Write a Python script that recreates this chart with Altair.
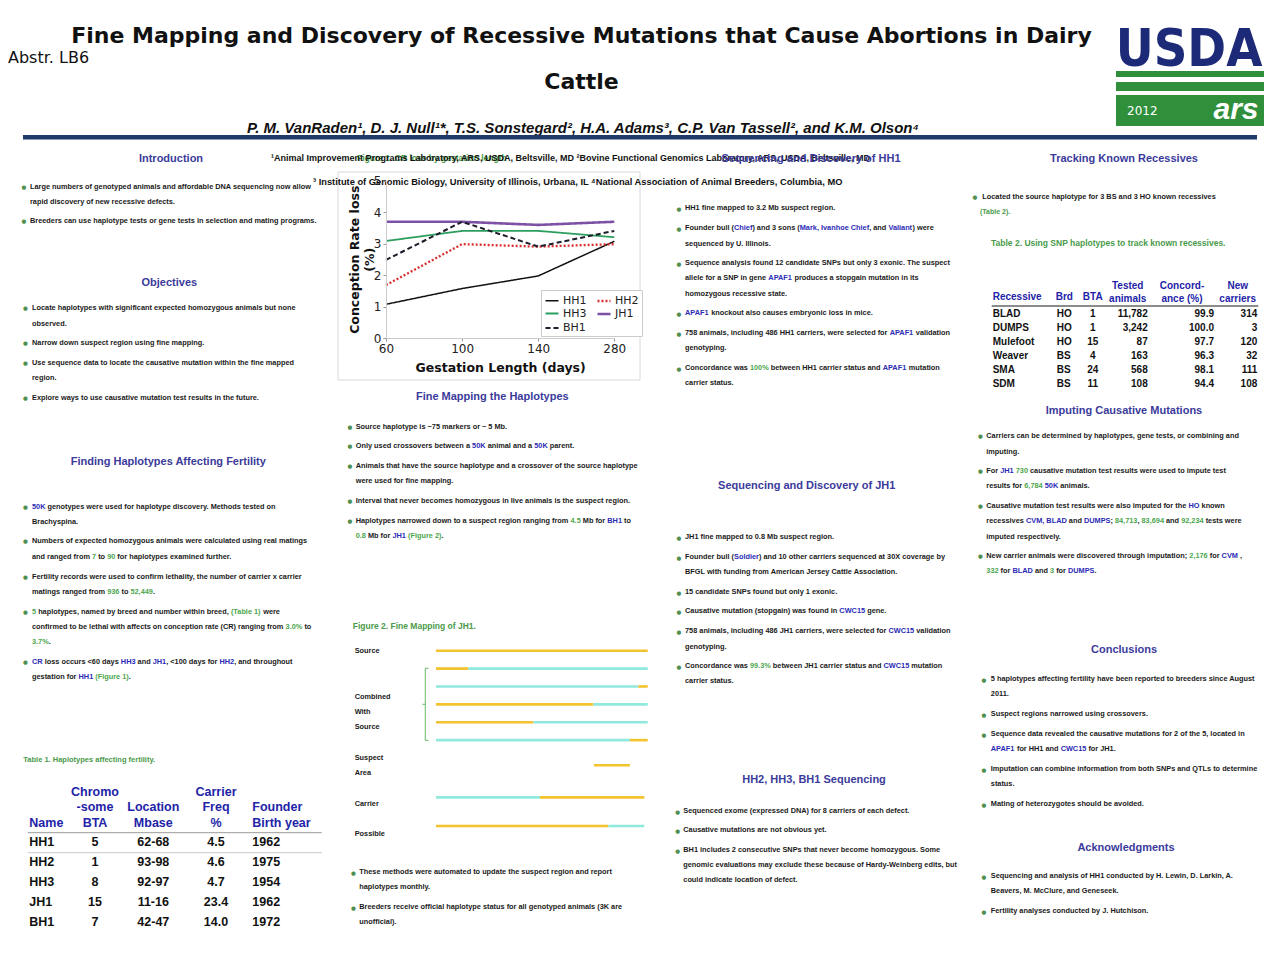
import re
import altair as alt
import pandas as pd

OFF = 8          # page margin
W, H = 1262, 936  # chart size


def px(v):
    return v - OFF


# ---------------- Figure 1 data ----------------
gestation_days = ["60", "100", "140", "280"]
cr_hh1 = [1.07, 1.57, 1.97, 3.07]
cr_hh2 = [1.68, 2.98, 2.90, 2.98]
cr_hh3 = [3.08, 3.40, 3.40, 3.20]
cr_jh1 = [3.69, 3.69, 3.59, 3.69]
cr_bh1 = [2.48, 3.69, 2.90, 3.40]
series_names = ["HH1", "HH2", "HH3", "JH1", "BH1"]
series_colors = ["#111111", "#d62f2f", "#2b9e5e", "#7d52a6", "#1d1d2b"]
series_dash = [[1, 0], [2, 2], [1, 0], [1, 0], [5, 3]]
series_width = [1.5, 1.3, 2.6, 1.5, 1.5]
# legend fills column by column: HH1, HH3, BH1 | HH2, JH1
legend_order = ["HH1", "HH3", "BH1", "HH2", "JH1"]

# ---------------- Table 1 data ----------------
t1_names = ["HH1", "HH2", "HH3", "JH1", "BH1"]
t1_bta = ["5", "1", "8", "15", "7"]
t1_loc = ["62-68", "93-98", "92-97", "11-16", "42-47"]
t1_freq = ["4.5", "4.6", "4.7", "23.4", "14.0"]
t1_year = ["1962", "1975", "1954", "1962", "1972"]

# ---------------- Table 2 data ----------------
t2_rec = ["BLAD", "DUMPS", "Mulefoot", "Weaver", "SMA", "SDM"]
t2_brd = ["HO", "HO", "HO", "BS", "BS", "BS"]
t2_bta = ["1", "1", "15", "4", "24", "11"]
t2_tested = ["11,782", "3,242", "87", "163", "568", "108"]
t2_conc = ["99.9", "100.0", "97.7", "96.3", "98.1", "94.4"]
t2_new = ["314", "3", "120", "32", "111", "108"]

# ---------------- Figure 2 data (fine mapping of JH1) ----------------
seg_track = [0, 1, 1, 2, 2, 3, 3, 4, 4, 5, 5, 6.4, 8.2, 8.2, 9.8, 9.8]
seg_start = [0, 0, 15.3, 0, 95.6, 0, 74.3, 0, 46, 0, 91.6, 74.6, 0, 49.1, 0, 81.4]
seg_end = [100, 15.3, 100, 95.6, 100, 74.3, 100, 46, 100, 91.6, 100, 91.6, 49.1, 98.4, 81.4, 98.4]
seg_kind = ["S", "S", "O", "O", "S", "S", "O", "S", "O", "O", "S", "S", "O", "S", "S", "O"]

BODY_FONT = "Liberation Sans"
HEAD_COLOR = "#3b3b9b"
GREEN = "#4a9a4a"
BLUE = "#2323a8"
BODY_COLOR = "#1a1a1a"
INLINE = {"K": BODY_COLOR, "B": "#2b2bb5", "G": "#4da64d"}

# Liberation Sans Bold advance widths (Arial-compatible, per 1000 em)
_W = {" ": 278, "!": 333, "%": 889, "&": 722, "'": 238, "(": 333, ")": 333, "*": 389,
      "+": 584, ",": 278, "-": 333, ".": 278, "/": 278, ":": 333, ";": 333, "<": 584,
      "=": 584, ">": 584, "?": 611, "~": 584,
      "A": 722, "B": 722, "C": 722, "D": 722, "E": 667, "F": 611, "G": 778, "H": 722,
      "I": 278, "J": 556, "K": 722, "L": 611, "M": 833, "N": 722, "O": 778, "P": 667,
      "Q": 778, "R": 722, "S": 667, "T": 611, "U": 722, "V": 667, "W": 944, "X": 667,
      "Y": 667, "Z": 611,
      "a": 556, "b": 611, "c": 556, "d": 611, "e": 556, "f": 333, "g": 611, "h": 611,
      "i": 278, "j": 278, "k": 556, "l": 278, "m": 889, "n": 611, "o": 611, "p": 611,
      "q": 611, "r": 389, "s": 556, "t": 333, "u": 611, "v": 556, "w": 778, "x": 556,
      "y": 556, "z": 500}


def text_width(s, size):
    return sum(_W.get(ch, 556) for ch in s) * size / 1000.0


def text_layer(rows, size, color, weight="bold", align="left", font=BODY_FONT,
               style="normal", baseline="middle"):
    df = pd.DataFrame([{"x": px(x), "y": px(y), "t": t} for x, y, t in rows])
    return alt.Chart(df).mark_text(
        fontSize=size, color=color, fontWeight=weight, align=align,
        baseline=baseline, font=font, fontStyle=style
    ).encode(
        x=alt.X("x:Q", scale=None, axis=None),
        y=alt.Y("y:Q", scale=None, axis=None),
        text="t:N",
    )


def rich_layer(rows, size):
    """Lines with inline colour markup {B:...} (blue) and {G:...} (green)."""
    out = []
    for x0, y, line in rows:
        parts = re.split(r"(\{[BG]:[^}]*\})", line)
        cursor = 0.0
        for part in parts:
            if not part:
                continue
            m = re.match(r"\{([BG]):([^}]*)\}", part)
            key, seg = (m.group(1), m.group(2)) if m else ("K", part)
            lead = len(seg) - len(seg.lstrip(" "))
            stripped = seg.strip(" ")
            if stripped:
                out.append({"x": px(x0 + cursor + text_width(seg[:lead], size)),
                            "y": px(y), "t": stripped, "c": INLINE[key]})
            cursor += text_width(seg, size)
    df = pd.DataFrame(out)
    return alt.Chart(df).mark_text(
        fontSize=size, fontWeight="bold", align="left", baseline="middle", font=BODY_FONT
    ).encode(
        x=alt.X("x:Q", scale=None, axis=None),
        y=alt.Y("y:Q", scale=None, axis=None),
        text="t:N",
        color=alt.Color("c:N", scale=None),
    )


def rect_layer(rows, **mark):
    df = pd.DataFrame([{"x": px(a), "x2": px(b), "y": px(c), "y2": px(d), "c": col}
                       for a, b, c, d, col in rows])
    return alt.Chart(df).mark_rect(**mark).encode(
        x=alt.X("x:Q", scale=None, axis=None), x2="x2:Q",
        y=alt.Y("y:Q", scale=None, axis=None), y2="y2:Q",
        color=alt.Color("c:N", scale=None),
    )


def rule_layer(rows, width):
    df = pd.DataFrame([{"x": px(a), "x2": px(b), "y": px(c), "y2": px(d), "c": col}
                       for a, b, c, d, col in rows])
    return alt.Chart(df).mark_rule(strokeWidth=width).encode(
        x=alt.X("x:Q", scale=None, axis=None), x2="x2:Q",
        y=alt.Y("y:Q", scale=None, axis=None), y2="y2:Q",
        color=alt.Color("c:N", scale=None),
    )


layers = []

# ---------------- Header ----------------
layers.append(text_layer([
    (581.5, 36, "Fine Mapping and Discovery of Recessive Mutations that Cause Abortions in Dairy"),
    (581.5, 82, "Cattle"),
], 22, "#111111", align="center", font="DejaVu Sans"))
layers.append(text_layer([(8, 58, "Abstr. LB6")], 16, "#111111", weight="normal",
                         font="DejaVu Sans"))
layers.append(text_layer([
    (583, 128, "P. M. VanRaden\u00b9, D. J. Null\u00b9*, T.S. Sonstegard\u00b2, H.A. Adams\u00b3, "
               "C.P. Van Tassell\u00b2, and K.M. Olson\u2074"),
], 15, "#111111", align="center", style="italic"))
layers.append(rect_layer([(23, 1257, 135, 139.5, "#1f3a68")]))

# USDA logo (approximation)
layers.append(rect_layer([
    (1116, 1264, 71, 77, "#2f8f3a"),
    (1116, 1264, 82, 91, "#2f8f3a"),
    (1116, 1264, 95, 126, "#2f8f3a"),
]))
layers.append(text_layer([(1189, 66, "USDA")], 52, "#1c2a78", align="center",
                         font="DejaVu Sans Condensed, Liberation Sans",
                         baseline="alphabetic"))
layers.append(text_layer([(1127, 111, "2012")], 12, "#ffffff", weight="normal",
                         font="DejaVu Sans"))
layers.append(text_layer([(1236, 110, "ars")], 30, "#ffffff", align="center",
                         style="italic"))

# ---------------- Figure 1 frame ----------------
layers.append(rect_layer([(338, 640, 172, 380, "#ffffff")], stroke="#d8d8d8",
                         strokeWidth=1, fillOpacity=0))

# Affiliations & figure caption (overlapping as in the poster)
layers.append(text_layer([(357, 158, "Figure 1.  CR loss by gestation length")], 8.5, GREEN))
layers.append(text_layer([
    (271, 158, "\u00b9Animal Improvement Programs Laboratory, ARS, USDA, Beltsville, MD  "
               "\u00b2Bovine Functional Genomics Laboratory, ARS, USDA, Beltsville, MD"),
], 9, "#111111"))
layers.append(text_layer([
    (313, 182, "\u00b3 Institute of Genomic Biology, University of Illinois, Urbana, IL  "
               "\u2074National Association of Animal  Breeders, Columbia, MO"),
], 9.3, "#111111"))

# ---------------- Figure 1 line chart ----------------
rows = []
for name, vals in zip(series_names, [cr_hh1, cr_hh2, cr_hh3, cr_jh1, cr_bh1]):
    for d, v in zip(gestation_days, vals):
        rows.append({"days": d, "series": name, "value": v})
fig1_df = pd.DataFrame(rows)


def ordered(values):
    return [values[series_names.index(n)] for n in legend_order]


line_chart = alt.Chart(fig1_df).mark_line().encode(
    x=alt.X("days:N", sort=gestation_days,
            scale=alt.Scale(type="point", domain=gestation_days,
                            range=[px(386), px(614.3)], padding=0),
            axis=alt.Axis(title="Gestation Length (days)", offset=-(H - px(338)),
                          labelAngle=0, labelFont="DejaVu Sans", labelFontSize=12,
                          labelColor="#222222", titleFont="DejaVu Sans",
                          titleFontSize=12.5, titleFontWeight="bold", titleColor="#111111",
                          domainColor="#cccccc", tickColor="#999999", tickSize=3,
                          labelPadding=2, titlePadding=7, grid=False, zindex=2)),
    y=alt.Y("value:Q",
            scale=alt.Scale(domain=[0, 5], range=[px(338), px(180.5)], nice=False, zero=False),
            axis=alt.Axis(title=["Conception Rate loss", "(%)"], values=[0, 1, 2, 3, 4, 5],
                          offset=-px(386), labelFont="DejaVu Sans", labelFontSize=12,
                          labelColor="#222222", titleFont="DejaVu Sans", titleFontSize=12.5,
                          titleFontWeight="bold", titleColor="#111111", titleLineHeight=15,
                          domainColor="#cccccc", tickColor="#999999", tickSize=3,
                          labelPadding=2, titlePadding=-3, labelOverlap=False,
                          grid=False, zindex=2)),
    color=alt.Color("series:N",
                    scale=alt.Scale(domain=legend_order, range=ordered(series_colors)),
                    legend=alt.Legend(title=None, orient="none", legendX=px(541),
                                      legendY=px(290), columns=2, symbolType="stroke",
                                      symbolSize=170, labelFont="DejaVu Sans",
                                      labelFontSize=11, labelColor="#222222",
                                      strokeColor="#cccccc", fillColor="#ffffff",
                                      padding=3, columnPadding=5, rowPadding=0,
                                      labelOffset=3, zindex=2)),
    strokeDash=alt.StrokeDash("series:N",
                              scale=alt.Scale(domain=legend_order, range=ordered(series_dash)),
                              legend=alt.Legend(title=None)),
    strokeWidth=alt.StrokeWidth("series:N",
                                scale=alt.Scale(domain=legend_order,
                                                range=ordered(series_width)),
                                legend=alt.Legend(title=None)),
)
layers.append(line_chart)

# ---------------- Section headings ----------------
layers.append(text_layer([
    (171, 159, "Introduction"),
    (169.3, 282.7, "Objectives"),
    (168.3, 462.3, "Finding Haplotypes Affecting Fertility"),
    (492.3, 397.3, "Fine Mapping the Haplotypes"),
    (811, 159, "Sequencing and Discovery of HH1"),
    (806.7, 486, "Sequencing and Discovery of JH1"),
    (814, 779.7, "HH2, HH3, BH1 Sequencing"),
    (1124, 159.3, "Tracking Known Recessives"),
    (1124, 410.5, "Imputing Causative Mutations"),
    (1124, 649.8, "Conclusions"),
    (1126, 847.8, "Acknowledgments"),
], 11, HEAD_COLOR, align="center"))

# ---------------- Body text ----------------
body = [
    # Introduction
    (30, 186.7, "Large numbers of genotyped animals and affordable DNA sequencing now allow"),
    (30, 201.7, "rapid discovery of new recessive defects."),
    (30, 221.3, "Breeders can use haplotype tests or gene tests in selection and mating programs."),
    # Objectives
    (32, 308.3, "Locate haplotypes with significant expected homozygous animals but none"),
    (32, 323.7, "observed."),
    (32, 343.3, "Narrow down suspect region using fine mapping."),
    (32, 363, "Use sequence data to locate the causative mutation within the fine mapped"),
    (32, 378.3, "region."),
    (32, 398.3, "Explore ways to use causative mutation test results in the future."),
    # Finding haplotypes
    (32, 506.7, "{B:50K} genotypes were used for haplotype discovery. Methods tested on"),
    (32, 522, "Brachyspina."),
    (32, 541.3, "Numbers of expected homozygous animals were calculated using real matings"),
    (32, 557, "and ranged from {G:7} to {G:90} for haplotypes examined further."),
    (32, 576.7, "Fertility records were used to confirm lethality, the number of carrier x carrier"),
    (32, 591.7, "matings ranged from {G:936} to {G:52,449}."),
    (32, 611.7, "{G:5} haplotypes, named by breed and number within breed, {G:(Table 1)} were"),
    (32, 626.7, "confirmed to be lethal with affects on conception rate (CR) ranging from {G:3.0%} to"),
    (32, 642, "{G:3.7%}."),
    (32, 661.7, "{B:CR} loss occurs <60 days {B:HH3} and {B:JH1}, <100 days for {B:HH2}, and throughout"),
    (32, 677, "gestation for {B:HH1} {G:(Figure 1)}."),
    # Fine mapping
    (355.7, 426.7, "Source haplotype is ~75 markers or ~ 5 Mb."),
    (355.7, 446.3, "Only used crossovers between a {B:50K} animal and a {B:50K} parent."),
    (355.7, 466, "Animals that have the source haplotype and a crossover of the source haplotype"),
    (355.7, 481.3, "were used for fine mapping."),
    (355.7, 501, "Interval that never becomes homozygous in live animals is the suspect region."),
    (355.7, 520.7, "Haplotypes narrowed down to a suspect region ranging from {G:4.5} Mb for {B:BH1} to"),
    (355.7, 535.7, "{G:0.8} Mb for {B:JH1} {G:(Figure 2)}."),
    # Below figure 2
    (359.3, 872.3, "These methods  were automated to update the suspect region and report"),
    (359.3, 887.3, "haplotypes monthly."),
    (359.3, 907, "Breeders receive official haplotype status for all genotyped animals (3K are"),
    (359.3, 922, "unofficial)."),
    # HH1
    (685, 208.3, "HH1 fine mapped to 3.2 Mb suspect region."),
    (685, 228, "Founder bull ({B:Chief}) and 3 sons ({B:Mark, Ivanhoe Chief}, and {B:Valiant}) were"),
    (685, 243.7, "sequenced by U. Illinois."),
    (685, 263, "Sequence analysis found 12 candidate SNPs but only 3 exonic. The suspect"),
    (685, 278.3, "allele for a SNP in gene {B:APAF1} produces a stopgain mutation in its"),
    (685, 293.7, "homozygous recessive state."),
    (685, 313.3, "{B:APAF1} knockout also causes embryonic loss in mice."),
    (685, 333, "758 animals, including 486 HH1 carriers, were selected for {B:APAF1} validation"),
    (685, 348, "genotyping."),
    (685, 367.7, "Concordance was {G:100%} between HH1 carrier status and {B:APAF1} mutation"),
    (685, 383, "carrier status."),
    # JH1
    (685, 537, "JH1 fine mapped to 0.8 Mb suspect region."),
    (685, 557, "Founder bull ({B:Soldier}) and 10 other carriers sequenced at 30X coverage by"),
    (685, 572, "BFGL with funding from American Jersey Cattle Association."),
    (685, 591.7, "15 candidate SNPs found but only 1 exonic."),
    (685, 611.3, "Causative mutation (stopgain) was found in {B:CWC15} gene."),
    (685, 631.3, "758 animals, including 486 JH1 carriers, were selected for {B:CWC15} validation"),
    (685, 646.7, "genotyping."),
    (685, 666, "Concordance was {G:99.3%} between JH1 carrier status and {B:CWC15} mutation"),
    (685, 681, "carrier status."),
    # HH2, HH3, BH1
    (683.3, 810.7, "Sequenced exome (expressed DNA) for 8 carriers of each defect."),
    (683.3, 830.3, "Causative mutations are not obvious yet."),
    (683.3, 850, "BH1 includes 2 consecutive SNPs that never become homozygous. Some"),
    (683.3, 865, "genomic evaluations may exclude these because of Hardy-Weinberg edits, but"),
    (683.3, 880, "could indicate location of defect."),
    # Tracking
    (982.3, 196.7, "Located the source haplotype for 3 BS and 3 HO known recessives"),
    # Imputing
    (986.3, 436.3, "Carriers can be determined by haplotypes, gene tests, or combining and"),
    (986.3, 451.5, "imputing."),
    (986.3, 471.1, "For {B:JH1} {G:730} causative mutation test results were used to impute test"),
    (986.3, 486.3, "results for {G:6,784} {B:50K} animals."),
    (986.3, 505.9, "Causative mutation test results were also imputed for the {B:HO} known"),
    (986.3, 521.4, "recessives {B:CVM, BLAD} and {B:DUMPS}; {G:84,713}, {G:83,694} and {G:92,234} tests were"),
    (986.3, 536.5, "imputed respectively."),
    (986.3, 556.2, "New carrier animals were discovered through imputation; {G:2,176} for {B:CVM} ,"),
    (986.3, 571.3, "{G:332} for {B:BLAD} and {G:3} for {B:DUMPS}."),
    # Conclusions
    (990.8, 679.4, "5 haplotypes affecting fertility have been reported to breeders since August"),
    (990.8, 694.2, "2011."),
    (990.8, 714.2, "Suspect regions narrowed using crossovers."),
    (990.8, 734.2, "Sequence data revealed the causative mutations for 2 of the 5, located in"),
    (990.8, 749, "{B:APAF1} for HH1 and {B:CWC15} for JH1."),
    (990.8, 769, "Imputation can combine information from both SNPs and QTLs to determine"),
    (990.8, 784.1, "status."),
    (990.8, 803.7, "Mating of heterozygotes should be avoided."),
    # Acknowledgments
    (990.8, 875.7, "Sequencing and analysis of HH1 conducted by H. Lewin, D. Larkin,  A."),
    (990.8, 890.9, "Beavers, M. McClure, and Geneseek."),
    (990.8, 910.8, "Fertility analyses conducted by J. Hutchison."),
]
layers.append(rich_layer(body, 7.35))

bullets = (
    [(24, y) for y in [186.7, 221.3]]
    + [(25.5, y) for y in [308.3, 343.3, 363, 398.3]]
    + [(25.5, y) for y in [506.7, 541.3, 576.7, 611.7, 661.7]]
    + [(350, y) for y in [426.7, 446.3, 466, 501, 520.7]]
    + [(353.3, y + 1) for y in [872.3, 907]]
    + [(679, y + 1) for y in [208.3, 228, 263, 313.3, 333, 367.7]]
    + [(679, y + 1) for y in [537, 557, 591.7, 611.3, 631.3, 666]]
    + [(677.7, y + 1) for y in [810.7, 830.3, 850]]
    + [(975, 196.7)]
    + [(980.5, y) for y in [436.3, 471.1, 505.9, 556.2]]
    + [(984, y + 1) for y in [679.4, 714.2, 734.2, 769, 803.7, 875.7, 910.8]]
)
layers.append(text_layer([(x, y, "\u25cf") for x, y in bullets], 5.5, "#4f8f4f",
                         align="center", font="DejaVu Sans"))

# ---------------- Green captions ----------------
layers.append(text_layer([(23.3, 760, "Table 1.  Haplotypes affecting fertility.")], 7.5, GREEN))
layers.append(text_layer([
    (352.7, 626, "Figure 2.  Fine Mapping of JH1."),
    (991, 243.3, "Table 2.  Using SNP haplotypes to track known recessives."),
], 8.5, GREEN))
layers.append(text_layer([(980, 211.7, "(Table 2).")], 7, GREEN))

# ---------------- Table 1 ----------------
layers.append(text_layer([(29.3, 822.7, "Name"), (252.3, 806.7, "Founder"),
                          (252.3, 822.7, "Birth year")], 12.5, BLUE))
layers.append(text_layer([
    (95, 792.3, "Chromo"), (95, 806.7, "-some"), (95, 822.7, "BTA"),
    (153.3, 806.7, "Location"), (153.3, 822.7, "Mbase"),
    (216, 792.3, "Carrier"), (216, 806.7, "Freq"), (216, 822.7, "%"),
], 12.5, BLUE, align="center"))
layers.append(rule_layer([(27.7, 321.7, 832.7, 832.7, "#9a9a9a")], 1))
layers.append(rule_layer([(27.7, 321.7, 852.7, 852.7, "#c8c8c8")], 1))

t1_rows = []
for i, n in enumerate(t1_names):
    t1_rows += [
        {"row": n, "v": n, "al": "l", "x": px(29.3)},
        {"row": n, "v": t1_bta[i], "al": "c", "x": px(95)},
        {"row": n, "v": t1_loc[i], "al": "c", "x": px(153.3)},
        {"row": n, "v": t1_freq[i], "al": "c", "x": px(216)},
        {"row": n, "v": t1_year[i], "al": "l", "x": px(252.3)},
    ]
t1_df = pd.DataFrame(t1_rows)
for al, align in [("l", "left"), ("c", "center")]:
    layers.append(
        alt.Chart(t1_df).transform_filter(alt.datum.al == al).mark_text(
            fontSize=12.5, fontWeight="bold", font=BODY_FONT, color="#111111",
            align=align, baseline="middle"
        ).encode(
            x=alt.X("x:Q", scale=None, axis=None),
            y=alt.Y("row:N", scale=alt.Scale(type="point", domain=t1_names,
                                              range=[px(842.3), px(921.7)], padding=0),
                    axis=None),
            text="v:N",
        )
    )

# ---------------- Table 2 ----------------
layers.append(text_layer([(992.7, 297.3, "Recessive"), (1055.7, 297.3, "Brd")], 10, BLUE))
layers.append(text_layer([
    (1092.7, 297.3, "BTA"),
    (1127.7, 285.7, "Tested"), (1127.7, 298.7, "animals"),
    (1182, 285.7, "Concord-"), (1182, 298.7, "ance (%)"),
    (1237.7, 285.7, "New"), (1237.7, 298.7, "carriers"),
], 10, BLUE, align="center"))
layers.append(rule_layer([(991.7, 1258.3, 306, 306, "#666666")], 1.5))

t2_rows = []
for i, r in enumerate(t2_rec):
    t2_rows += [
        {"row": r, "v": r, "al": "l", "x": px(992.7)},
        {"row": r, "v": t2_brd[i], "al": "l", "x": px(1056.7)},
        {"row": r, "v": t2_bta[i], "al": "c", "x": px(1092.7)},
        {"row": r, "v": t2_tested[i], "al": "r", "x": px(1147.7)},
        {"row": r, "v": t2_conc[i], "al": "r", "x": px(1214)},
        {"row": r, "v": t2_new[i], "al": "r", "x": px(1257.3)},
    ]
t2_df = pd.DataFrame(t2_rows)
for al, align in [("l", "left"), ("c", "center"), ("r", "right")]:
    layers.append(
        alt.Chart(t2_df).transform_filter(alt.datum.al == al).mark_text(
            fontSize=10, fontWeight="bold", font=BODY_FONT, color="#111111",
            align=align, baseline="middle"
        ).encode(
            x=alt.X("x:Q", scale=None, axis=None),
            y=alt.Y("row:N", scale=alt.Scale(type="point", domain=t2_rec,
                                              range=[px(314), px(384)], padding=0),
                    axis=None),
            text="v:N",
        )
    )

# ---------------- Figure 2 ----------------
layers.append(text_layer([
    (354.7, 651, "Source"), (354.7, 696.7, "Combined"), (354.7, 712, "With"),
    (354.7, 727.3, "Source"), (354.7, 758, "Suspect"), (354.7, 773.3, "Area"),
    (354.7, 803.7, "Carrier"), (354.7, 834, "Possible"),
], 7.35, BODY_COLOR))
layers.append(rule_layer([
    (425.3, 425.3, 668.3, 740.3, "#66bb66"),
    (425.3, 428.5, 668.3, 668.3, "#66bb66"),
    (425.3, 428.5, 740.3, 740.3, "#66bb66"),
    (422.5, 425.3, 704.3, 704.3, "#66bb66"),
], 1))

fig2_df = pd.DataFrame({"track": seg_track, "start": seg_start, "end": seg_end,
                        "kind": seg_kind})
layers.append(
    alt.Chart(fig2_df).mark_rule(strokeWidth=2.6).encode(
        x=alt.X("start:Q", scale=alt.Scale(domain=[0, 100], range=[px(436), px(647.7)]),
                axis=None),
        x2="end:Q",
        y=alt.Y("track:Q", scale=alt.Scale(domain=[0, 9.8], range=[px(650.7), px(826)],
                                           nice=False, zero=False), axis=None),
        color=alt.Color("kind:N", scale=alt.Scale(domain=["S", "O"],
                                                  range=["#f3c22f", "#8fe9dd"]),
                        legend=None),
    )
)

chart = alt.layer(*layers).resolve_scale(
    x="independent", y="independent", color="independent",
    strokeDash="independent", strokeWidth="independent"
).properties(
    width=W, height=H, padding=0, autosize=alt.AutoSizeParams(type="none"),
    background="#ffffff"
).configure_view(strokeWidth=0)

chart.save("out.html", embed_options={"renderer": "svg", "actions": False})
